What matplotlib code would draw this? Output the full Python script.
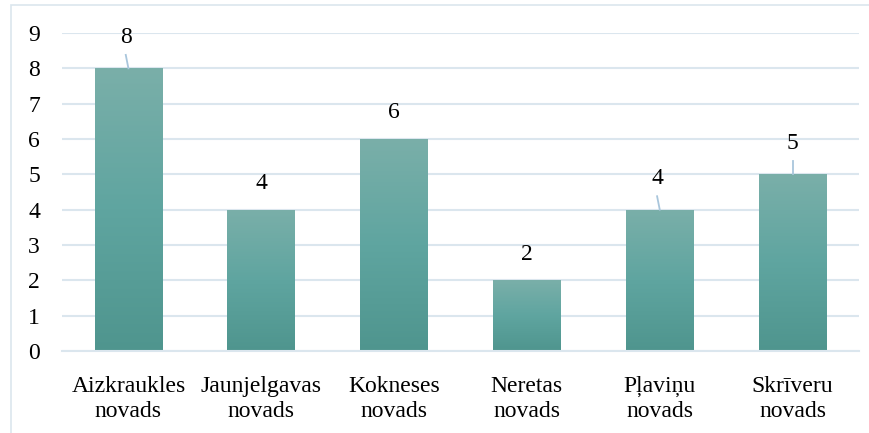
import matplotlib
matplotlib.use("Agg")
import matplotlib.pyplot as plt
import numpy as np
from matplotlib.colors import LinearSegmentedColormap
from matplotlib.patches import Rectangle

categories = ["Aizkraukles\nnovads", "Jaunjelgavas\nnovads", "Kokneses\nnovads",
              "Neretas\nnovads", "Pļaviņu\nnovads", "Skrīveru\nnovads"]
values = [8, 4, 6, 2, 4, 5]
leader = [True, False, False, False, True, True]
yticks = list(range(0, 10))

plt.rcParams['font.family'] = ['Liberation Serif', 'DejaVu Serif']
fig = plt.figure(figsize=(8.7, 4.33), dpi=100)
ax = fig.add_axes([62/870, 1-351/433, 797/870, (351-33)/433])

grid_c = "#dbe6ee"
cmap = LinearSegmentedColormap.from_list("g", ["#4f958e", "#5fa5a0", "#7aafa9"])
x = np.arange(len(values))
bw = 0.51
bars = ax.bar(x, values, width=bw, color="none", zorder=2)
grad = np.linspace(0, 1, 256).reshape(-1, 1)
for b in bars:
    bx, by, w, h = b.get_x(), b.get_y(), b.get_width(), b.get_height()
    im = ax.imshow(grad, cmap=cmap, origin="lower", aspect="auto",
                   extent=[bx, bx + w, by, by + h], zorder=2)
    im.set_clip_path(b)

fs = 17
for i, (xi, v, ld) in enumerate(zip(x, values, leader)):
    off = 0.88 if ld else 0.74
    dx = -0.02 if (ld and i < len(values) - 1) else 0.0
    ax.text(xi + dx, v + off, str(v), ha="center", va="center",
            fontsize=fs, zorder=3)
    if ld:
        ax.plot([xi, xi + dx], [v, v + 0.38], color="#a9c6dc", lw=1.3, zorder=3)

ax.set_xlim(-0.5, len(values) - 0.5)
ax.set_ylim(0, 9)
ax.set_yticks(yticks)
ax.set_xticks(x)
ax.set_xticklabels(categories, fontsize=fs, linespacing=1.25)
ax.tick_params(axis="both", length=0, labelsize=fs)
ax.tick_params(axis="x", pad=18)
ax.tick_params(axis="y", pad=20)
for t in ax.get_yticklabels():
    t.set_horizontalalignment("center")
ax.yaxis.grid(True, color=grid_c, lw=1.5, zorder=0)
ax.set_axisbelow(True)
for s in ["top", "right", "left"]:
    ax.spines[s].set_visible(False)
ax.spines["bottom"].set_color(grid_c)
ax.spines["bottom"].set_linewidth(1.5)

fig.add_artist(Rectangle((11/870, -0.01), 1.0, 1 - 5/433 + 0.01,
                         transform=fig.transFigure, fill=False,
                         edgecolor="#dbe6ee", lw=1.2))
fig.savefig("out.png", dpi=100)
